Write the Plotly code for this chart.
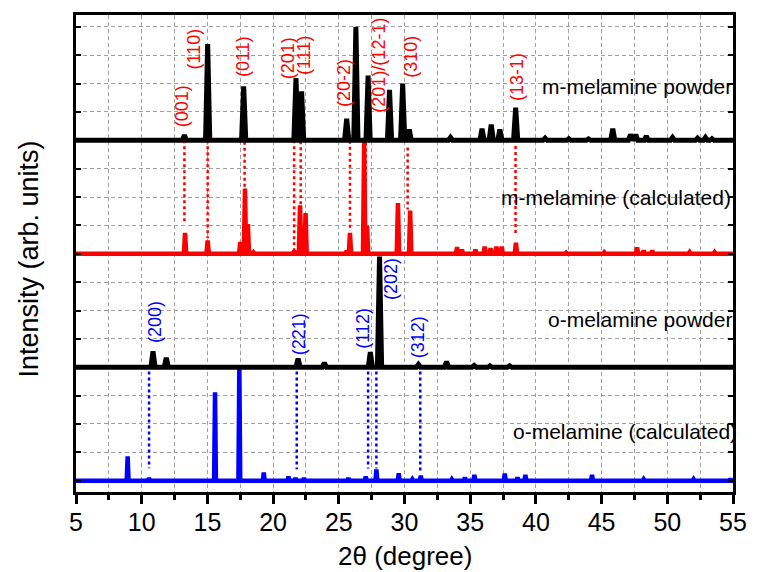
import numpy as np
import plotly.graph_objects as go

# ---------------- data (2theta in degrees, intensities in stacked grid units) ----------------
offsets = {"m_powder": 12.0, "m_calc": 8.0, "o_powder": 4.0, "o_calc": 0.0}

m_powder_pos = [13.25, 15.02, 17.76, 21.74, 22.17, 25.6, 26.3, 27.23, 28.86, 29.86, 30.36,
                33.5, 35.9, 36.6, 37.26, 38.46, 40.7, 42.5, 44.0, 45.85, 47.2, 47.6, 48.4,
                50.4, 52.3, 52.9, 53.4]
m_powder_h = [0.18, 3.4, 1.9, 2.2, 1.73, 0.76, 4.0, 2.28, 1.78, 2.0, 0.38,
              0.1, 0.41, 0.56, 0.38, 1.15, 0.08, 0.06, 0.05, 0.41, 0.2, 0.2, 0.15,
              0.1, 0.08, 0.1, 0.06]

m_calc_pos = [13.3, 15.02, 17.5, 17.86, 18.08, 18.5, 21.6, 22.05, 22.47, 25.6, 25.85, 26.93,
              27.15, 29.5, 30.43, 34.0, 34.37, 35.4, 36.1, 36.55, 37.0, 37.4, 38.48, 42.3,
              45.2, 47.7, 48.2, 48.85, 51.7, 53.6]
m_calc_h = [0.74, 0.47, 0.42, 2.3, 1.05, 0.05, 0.1, 1.71, 1.44, 0.1, 0.74, 4.0,
            1.0, 1.79, 1.52, 0.23, 0.15, 0.15, 0.25, 0.2, 0.25, 0.25, 0.39, 0.04,
            0.05, 0.22, 0.12, 0.12, 0.06, 0.06]

o_powder_pos = [10.86, 11.87, 21.9, 23.9, 27.4, 28.1, 31.06, 33.2, 35.3, 36.5, 38.0]
o_powder_h = [0.56, 0.33, 0.3, 0.15, 0.53, 3.9, 0.1, 0.2, 0.06, 0.05, 0.05]

o_calc_pos = [8.93, 10.56, 15.58, 17.43, 19.29, 21.17, 21.7, 22.35, 25.73, 27.05, 27.86,
              29.56, 30.6, 31.24, 33.6, 34.6, 35.32, 37.63, 38.6, 39.2, 44.27, 48.2, 52.0, 54.8]
o_calc_h = [0.86, 0.1, 3.12, 4.0, 0.29, 0.15, 0.1, 0.1, 0.1, 0.15, 0.4,
            0.26, 0.05, 0.18, 0.05, 0.12, 0.2, 0.25, 0.12, 0.2, 0.2, 0.05, 0.05, 0.07]

# reflection guides: position, upper end, lower end (grid units)
m_hkl = ["(001)", "(110)", "(011)", "(201)", "(111)", "(20-2)", "(201)/(12-1)", "(310)", "(13-1)"]
m_guide_x = [13.25, 15.02, 17.83, 21.6, 22.1, 25.85, 27.05, 30.24, 38.45]
m_guide_top = [12.0, 12.0, 11.95, 12.43, 12.6, 12.2, 12.56, 11.75, 11.8]
m_guide_bot = [9.06, 8.55, 10.3, 8.1, 9.75, 8.8, 8.1, 9.56, 8.69]
m_label_x = [13.05, 14.0, 17.76, 21.1, 22.4, 25.35, 28.03, 30.5, 38.6]
m_label_y = [12.38, 14.42, 14.17, 14.07, 14.24, 13.12, 12.91, 14.14, 13.3]

o_hkl = ["(200)", "(221)", "(112)", "(202)", "(312)"]
o_guide_x = [10.56, 21.8, 27.23, 27.86, 31.2]
o_guide_top = [3.85, 3.85, 3.85, 3.85, 3.85]
o_guide_bot = [0.44, 0.4, 0.43, 0.43, 0.36]
o_label_x = [11.06, 21.97, 26.82, 28.98, 31.0]
o_label_y = [4.77, 4.35, 4.59, 6.3, 4.23]

series_names = ["m-melamine powder", "m-melamine (calculated)", "o-melamine powder", "o-melamine (calculated)"]
series_label_y = [13.9, 9.97, 5.67, 1.72]
series_label_x = [55.1, 55.0, 55.1, 55.45]

x_ticks = [5, 10, 15, 20, 25, 30, 35, 40, 45, 50, 55]
X_RANGE = [5, 55]
Y_RANGE = [-0.40, 16.42]


def pattern(pos, h, hw, base):
    """Piecewise-linear stick pattern built from the read peak list."""
    xs = [5.0, 55.0]
    for p in pos:
        xs += [p - hw, p, p + hw]
    xs = np.unique(np.clip(np.array(xs), 5, 55))
    ys = np.full_like(xs, base)
    for p, hh in zip(pos, h):
        ys += hh * np.clip(1 - np.abs(xs - p) / hw, 0, None)
    return xs, ys


def guides(xs, tops, bots):
    gx, gy = [], []
    for x, t, b in zip(xs, tops, bots):
        gx += [x, x, None]
        gy += [t, b, None]
    return gx, gy


def to_paper_x(v):
    return (v - X_RANGE[0]) / (X_RANGE[1] - X_RANGE[0])


def to_paper_y(v):
    return (v - Y_RANGE[0]) / (Y_RANGE[1] - Y_RANGE[0])


fig = go.Figure()

gx, gy = guides(m_guide_x, m_guide_top, m_guide_bot)
fig.add_trace(go.Scatter(x=gx, y=gy, mode="lines", line=dict(color="red", width=2.5, dash="dot"),
                         hoverinfo="skip", showlegend=False))
gx, gy = guides(o_guide_x, o_guide_top, o_guide_bot)
fig.add_trace(go.Scatter(x=gx, y=gy, mode="lines", line=dict(color="blue", width=2.5, dash="dot"),
                         hoverinfo="skip", showlegend=False))

x, y = pattern(o_calc_pos, o_calc_h, 0.07, offsets["o_calc"])
fig.add_trace(go.Scatter(x=x, y=y, mode="lines", line=dict(color="blue", width=4.5), showlegend=False))
x, y = pattern(m_calc_pos, m_calc_h, 0.09, offsets["m_calc"])
fig.add_trace(go.Scatter(x=x, y=y, mode="lines", line=dict(color="red", width=4.5), showlegend=False))
x, y = pattern(o_powder_pos, o_powder_h, 0.16, offsets["o_powder"])
fig.add_trace(go.Scatter(x=x, y=y, mode="lines", line=dict(color="black", width=5), showlegend=False))
x, y = pattern(m_powder_pos, m_powder_h, 0.16, offsets["m_powder"])
fig.add_trace(go.Scatter(x=x, y=y, mode="lines", line=dict(color="black", width=5), showlegend=False))

FONT = "Arial, Liberation Sans, sans-serif"
ann = []
for t, xx, yy in zip(m_hkl, m_label_x, m_label_y):
    ann.append(dict(x=xx, y=yy, text=t, textangle=-90, showarrow=False, xanchor="center",
                    yanchor="bottom", font=dict(family=FONT, size=18, color="red")))
for t, xx, yy in zip(o_hkl, o_label_x, o_label_y):
    ann.append(dict(x=xx, y=yy, text=t, textangle=-90, showarrow=False, xanchor="center",
                    yanchor="bottom", font=dict(family=FONT, size=18, color="blue")))
for t, xx, yy in zip(series_names, series_label_x, series_label_y):
    ann.append(dict(xref="paper", yref="paper", x=to_paper_x(xx), y=to_paper_y(yy), text=t,
                    showarrow=False, xanchor="right", yanchor="middle",
                    font=dict(family=FONT, size=21, color="black")))
ann.append(dict(xref="paper", yref="paper", x=-0.0714, y=0.4875, text="Intensity (arb. units)",
                textangle=-90, showarrow=False, xanchor="center", yanchor="middle",
                font=dict(family=FONT, size=27, color="black")))
ann.append(dict(xref="paper", yref="paper", x=0.5, y=-0.134, text="2θ (degree)",
                showarrow=False, xanchor="center", yanchor="middle",
                font=dict(family=FONT, size=26, color="black")))

GRID = "#a0a0a0"
fig.update_layout(
    width=759, height=572,
    margin=dict(l=76, r=18, t=13, b=80),
    paper_bgcolor="white", plot_bgcolor="white",
    annotations=ann,
    showlegend=False,
    xaxis=dict(range=X_RANGE, tickvals=x_ticks, ticks="outside", ticklen=9, tickwidth=3,
               tickcolor="black", showline=True, linecolor="black", linewidth=3, mirror=True,
               ticklabelstandoff=-3,
               showgrid=True, gridcolor=GRID, gridwidth=1, griddash="4px,3px", zeroline=False,
               tickfont=dict(family=FONT, size=25, color="black"),
               minor=dict(dtick=2.5, ticks="outside", ticklen=5, tickwidth=2.5, tickcolor="black",
                          showgrid=True, gridcolor=GRID, gridwidth=1, griddash="4px,3px")),
    yaxis=dict(range=Y_RANGE, dtick=1, tick0=0, ticks="inside", ticklen=5, tickwidth=2,
               tickcolor="black", showticklabels=False, showline=True, linecolor="black",
               linewidth=3, mirror="ticks", showgrid=True, gridcolor=GRID, gridwidth=1,
               griddash="4px,3px", zeroline=False),
)

fig.write_html("out.html")
